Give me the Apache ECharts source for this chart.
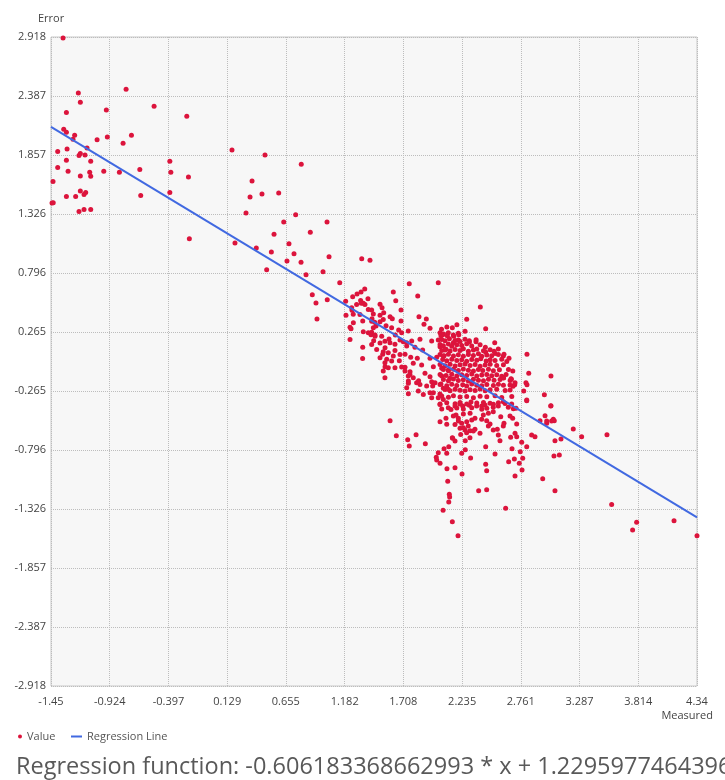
<!DOCTYPE html>
<html>
<head>
<meta charset="utf-8">
<script src="https://cdn.jsdelivr.net/npm/echarts@6/dist/echarts.min.js"></script>
<style>
html,body{margin:0;padding:0;background:#fff;}
#chart{width:725px;height:780px;}
</style>
</head>
<body>
<div id="chart"></div>
<script>
// ---- data ----
const xTicks = [-1.45, -0.924, -0.397, 0.129, 0.655, 1.182, 1.708, 2.235, 2.761, 3.287, 3.814, 4.34];
const yTicks = [-2.918, -2.387, -1.857, -1.326, -0.796, -0.265, 0.265, 0.796, 1.326, 1.857, 2.387, 2.918];

const xAxisName = "Measured";
const yAxisName = "Error";
const regressionText = "Regression function: -0.606183368662993 * x + 1.22959774643961";
const regressionLine = [[-1.45, 2.109], [4.34, -1.401]];

const valuePoints = [
[-1.342,2.91],[-1.205,2.415],[-0.777,2.448],[-1.187,2.331],[-1.312,2.238],[-0.954,2.262],[-0.526,2.295],[-0.233,2.205],
[-1.336,2.088],[-1.312,2.061],[-1.238,2.034],[-1.253,1.998],[-1.037,1.995],[-0.945,2.019],[-0.729,2.034],[-0.804,1.962],
[-1.127,1.920],[-1.306,1.911],[-1.390,1.888],[-1.187,1.870],[-1.199,1.852],[-1.145,1.858],[-1.312,1.810],[-1.094,1.801],
[-0.385,1.801],[-1.390,1.744],[-1.297,1.711],[-0.977,1.711],[-0.837,1.702],[-0.654,1.726],[-0.376,1.702],[-1.187,1.669],
[-1.103,1.702],[-1.094,1.666],[-0.218,1.660],[-1.432,1.618],[-1.187,1.534],[-1.139,1.519],[-1.154,1.501],[-1.312,1.483],
[-1.229,1.483],[-0.646,1.492],[-0.385,1.519],[-1.441,1.426],[-1.430,1.428],[-1.154,1.366],[-1.199,1.348],[-1.094,1.366],
[-0.210,1.104],
[0.172,1.902],[0.298,1.335],[0.199,1.066],[0.334,1.479],
[0.468,1.857],[0.793,1.773],[0.352,1.623],[0.441,1.506],[0.591,1.515],[0.743,1.320],[0.636,1.254],[1.024,1.254],
[0.874,1.162],[0.549,1.144],[0.683,1.059],[0.390,1.021],[0.525,0.985],[0.728,0.969],[1.042,0.943],[0.665,0.904],
[0.791,0.892],[0.483,0.826],[0.836,0.781],[0.988,0.808],[1.138,0.709],[0.892,0.601],[0.925,0.526],[1.026,0.556],
[1.191,0.541],[1.194,0.416],[0.934,0.382],[1.230,0.308],
[1.335,0.925],[1.409,0.910],[1.761,0.700],[2.021,0.709],[1.837,0.589],[1.618,0.625],[1.640,0.547],[2.398,0.490],
[2.276,0.380],[2.446,0.295],[2.527,0.169],[2.261,0.272],
[1.362,0.652],[1.329,0.625],[1.293,0.607],[1.254,0.583],[1.391,0.565],[1.331,0.523],[1.349,0.523],[1.499,0.514],
[1.248,0.460],[1.424,0.463],[1.517,0.484],[1.687,0.463],[1.259,0.425],[1.439,0.428],[1.532,0.439],[1.589,0.403],
[1.609,0.385],[1.344,0.364],[1.427,0.385],[1.451,0.352],[1.499,0.358],[1.848,0.403],[1.914,0.382],[1.893,0.335],
[1.947,0.299],[1.687,0.364],[1.239,0.295],[1.553,0.322],[1.463,0.320],[1.666,0.284],[1.752,0.274],[1.424,0.263],
[1.418,0.241],[1.454,0.238],[1.636,0.238],[2.037,0.259],[2.061,0.241],[2.111,0.259],[1.442,0.187],[1.580,0.202],
[1.678,0.193],[1.708,0.178],[1.783,0.184],[1.857,0.200],[1.962,0.184],[2.021,0.193],[1.499,0.166],[1.633,0.155],
[1.344,0.128],[1.544,0.124],[1.738,0.140],[1.812,0.128],[1.881,0.103],[2.037,0.133],[2.081,0.103],[1.523,0.065],
[1.618,0.050],[1.723,0.065],[1.774,0.038],[1.833,0.029],[1.947,0.029],[2.007,0.038],[2.066,0.050],[1.559,0.020],
[1.672,0.007],[1.797,-0.016],[1.872,-0.031],[1.544,-0.047],[1.723,-0.052],[1.977,-0.047],[2.052,-0.061],[2.111,-0.076],
[1.768,-0.092],[1.902,-0.106],[1.947,-0.137],[1.752,-0.130],[2.052,-0.130],[2.126,-0.151],
[2.816,0.065],[2.832,-0.106],[3.031,-0.130],[2.972,-0.298],[3.031,-0.397],[2.978,-0.487],[3.061,-0.532],[2.993,-0.556],
[3.231,-0.607],[3.306,-0.676],[3.067,-0.712],[3.121,-0.697],[3.058,-0.850],[3.106,-0.841],[2.957,-1.054],[3.067,-1.162],
[2.814,-0.346],[2.787,-0.265],[2.673,-0.155],[2.706,-0.208],[2.691,-0.223],[2.604,-0.146],[2.655,0.029],[2.604,0.050],
[2.559,0.113],[2.530,0.071],[2.443,0.128],[2.446,0.086],
[1.589,-0.532],[1.645,-0.667],[1.822,-0.658],[1.747,-0.703],[1.761,-0.760],[1.905,-0.739],[2.037,-0.541],[2.037,-0.382],
[2.052,-0.427],[2.090,-0.511],[2.097,-0.565],[2.021,-0.820],[2.003,-0.861],[2.007,-0.886],[2.037,-0.915],[2.073,-0.784],
[2.097,-0.825],[2.115,-0.766],[2.147,-0.685],[2.171,-0.715],[2.263,-0.712],[2.263,-0.793],[2.099,-0.964],[2.171,-0.955],
[2.106,-1.077],[2.234,-1.011],[2.120,-1.194],[2.123,-1.218],[2.115,-1.263],[2.064,-1.338],[2.147,-1.440],[2.311,-0.868],
[2.383,-1.162],[2.455,-1.153],[2.446,-0.924],[2.455,-0.982],[2.446,-0.766],[2.530,-0.832],[2.652,-0.901],[2.703,-0.877],
[2.682,-0.784],[2.756,-0.811],[2.778,-0.870],[2.772,-0.976],[2.709,-1.030],[2.625,-1.320],[2.814,-0.766],[2.769,-0.727],
[2.198,-1.566],
[2.171,-0.400],[2.216,-0.382],[2.240,-0.400],[2.299,-0.394],[2.314,-0.364],[2.365,-0.400],[2.410,-0.400],[2.440,-0.391],
[2.485,-0.376],[2.514,-0.412],[2.559,-0.400],[2.604,-0.361],[2.679,-0.382],[2.718,-0.421],[2.814,-0.352],[3.029,-0.400],
[2.180,-0.481],[2.246,-0.472],[2.306,-0.466],[2.201,-0.511],[2.321,-0.526],[2.350,-0.511],[2.276,-0.541],[2.231,-0.556],
[2.425,-0.481],[2.470,-0.466],[2.514,-0.451],[2.455,-0.532],[2.485,-0.562],[2.410,-0.520],[2.581,-0.496],[2.610,-0.556],
[2.664,-0.490],[2.688,-0.511],[2.724,-0.562],[2.216,-0.600],[2.261,-0.616],[2.306,-0.622],[2.350,-0.609],[2.395,-0.645],
[2.470,-0.580],[2.514,-0.616],[2.550,-0.609],[2.604,-0.580],[2.709,-0.645],[2.724,-0.676],[2.559,-0.661],[2.670,-0.682],
[2.574,-0.712],[2.150,-0.690],[2.231,-0.825],[2.747,-0.915],[2.933,-0.532],[2.858,-0.661],[2.888,-0.676],
[2.147,0.304],[2.156,0.238],[2.201,0.254],[2.201,0.193],[2.156,0.169],[2.299,0.187],[2.359,0.178],[2.610,0.065],[2.807,-0.190],[2.649,-0.412],
[2.045,0.232],[2.068,0.247],[2.103,0.229],[2.160,0.226],[2.205,0.241],
[2.052,0.198],[2.082,0.186],[2.121,0.204],[2.172,0.189],[2.216,0.180],[2.261,0.199],[2.300,0.176],[2.360,0.195],
[2.037,0.152],[2.067,0.141],[2.112,0.158],[2.142,0.137],[2.187,0.151],[2.231,0.144],[2.276,0.160],[2.321,0.139],[2.396,0.150],
[2.052,0.098],[2.091,0.110],[2.127,0.094],[2.172,0.107],[2.216,0.099],[2.246,0.114],[2.291,0.092],[2.336,0.104],[2.366,0.112],[2.426,0.097],[2.486,0.106],[2.521,0.093],
[2.037,0.062],[2.073,0.051],[2.112,0.066],[2.157,0.049],[2.201,0.060],[2.246,0.047],[2.291,0.064],[2.336,0.055],[2.381,0.069],[2.411,0.048],[2.456,0.059],[2.500,0.052],[2.560,0.063],
[2.061,0.018],[2.097,0.006],[2.142,0.021],[2.187,0.009],[2.231,0.016],[2.276,0.002],[2.321,0.019],[2.366,0.011],[2.402,0.024],[2.450,0.004],[2.486,0.015],[2.530,0.008],[2.590,0.020],[2.635,0.001],
[2.037,-0.028],[2.082,-0.039],[2.127,-0.025],[2.172,-0.041],[2.216,-0.030],[2.261,-0.022],[2.306,-0.037],[2.351,-0.027],[2.396,-0.043],[2.441,-0.031],[2.486,-0.024],[2.545,-0.036],[2.605,-0.029],
[2.067,-0.072],[2.112,-0.084],[2.157,-0.070],[2.201,-0.081],[2.246,-0.068],[2.291,-0.079],[2.336,-0.086],[2.381,-0.073],[2.420,-0.080],[2.471,-0.069],[2.515,-0.083],[2.569,-0.075],[2.650,-0.071],[2.689,-0.085],
[2.037,-0.118],[2.091,-0.127],[2.142,-0.114],[2.187,-0.130],[2.231,-0.119],[2.276,-0.125],[2.321,-0.112],[2.366,-0.131],[2.411,-0.121],[2.456,-0.116],[2.500,-0.128],[2.545,-0.120],[2.590,-0.133],[2.629,-0.117],
[2.067,-0.161],[2.112,-0.173],[2.157,-0.158],[2.201,-0.170],[2.246,-0.163],[2.291,-0.176],[2.336,-0.160],[2.381,-0.169],[2.426,-0.174],[2.471,-0.159],[2.521,-0.168],[2.575,-0.162],[2.665,-0.171],
[2.037,-0.206],[2.097,-0.218],[2.142,-0.204],[2.187,-0.215],[2.240,-0.209],[2.276,-0.221],[2.321,-0.203],[2.366,-0.214],[2.411,-0.219],[2.456,-0.207],[2.515,-0.216],[2.560,-0.205],[2.605,-0.213],
[2.082,-0.251],[2.127,-0.262],[2.172,-0.249],[2.216,-0.258],[2.261,-0.266],[2.306,-0.253],[2.351,-0.260],[2.396,-0.247],[2.441,-0.263],[2.486,-0.255],[2.545,-0.250],[2.620,-0.261],[2.665,-0.256],
[2.052,-0.311],[2.112,-0.322],[2.157,-0.309],[2.216,-0.320],[2.276,-0.314],[2.336,-0.326],[2.396,-0.312],[2.456,-0.318],[2.530,-0.308],[2.590,-0.323],[2.680,-0.315],
[2.097,-0.371],[2.172,-0.380],[2.216,-0.368],[2.276,-0.383],[2.366,-0.374],[2.426,-0.369],[2.515,-0.385],[2.560,-0.372],[2.620,-0.378],
[2.187,-0.418],[2.246,-0.427],[2.321,-0.415],[2.411,-0.430],[2.456,-0.420],[2.694,-0.424],
[1.245,0.483],[1.289,0.513],[1.325,0.549],[1.364,0.513],[1.394,0.468],[1.319,0.423],[1.260,0.348],[1.424,0.363],
[1.499,0.417],[1.528,0.378],[1.439,0.303],[1.394,0.258],[1.349,0.267],[1.454,0.228],[1.514,0.228],[1.543,0.183],
[1.588,0.168],[1.603,0.303],[1.693,0.258],[1.738,0.168],[1.424,0.153],[1.469,0.108],[1.528,0.087],[1.573,0.079],
[1.633,0.100],[1.678,0.063],[1.499,0.034],[1.543,-0.011],[1.603,0.004],[1.633,-0.056],[1.528,-0.086],[1.543,-0.146],
[1.573,-0.056],[1.693,-0.050],[1.723,-0.086],[1.767,-0.116],[1.753,-0.176],[1.797,-0.146],[1.827,-0.191],[1.738,-0.236],
[1.753,-0.290],[1.842,-0.266],[1.857,-0.206],[1.917,-0.221],[1.887,-0.296],[1.947,-0.281],[1.962,-0.326],[1.343,0.028],[1.230,0.198],
[1.753,-0.196],[1.845,-0.172],[1.962,-0.181],[1.992,-0.190],[1.971,-0.220],[2.045,-0.202],[2.066,-0.241],[2.111,-0.250],[2.036,-0.292],
[2.036,-0.386],[2.066,-0.341],[2.111,-0.416],[2.156,-0.491],[2.171,-0.566],[2.201,-0.536],[2.246,-0.596],[2.275,-0.641],
[2.222,-0.656],[2.305,-0.686],[2.335,-0.626],[2.290,-0.581],[2.135,-0.431],[1.977,-0.281],[2.021,-0.326],
[2.816,-0.208],[2.993,-0.535],[3.037,-0.535],[3.052,-0.520],[3.533,-0.658],[3.575,-1.287],[3.799,-1.446],[3.763,-1.515],
[4.134,-1.431],[4.34,-1.566],[2.607,-0.148],[2.676,-0.160],[2.709,-0.190],[2.664,-0.211],
[2.098,0.310],[2.188,0.330],[2.050,0.290]
];

// ---- chart ----
const FONT = '"Open Sans", "Liberation Sans", sans-serif';
const chart = echarts.init(document.getElementById('chart'), null, {renderer: 'canvas'});
chart.setOption({
  animation: false,
  backgroundColor: '#ffffff',
  textStyle: {fontFamily: FONT},
  title: {
    text: regressionText,
    left: 11,
    top: 750,
    textStyle: {fontSize: 23.5, fontWeight: 'normal', color: '#595959', fontFamily: FONT}
  },
  graphic: [
    {type: 'text', left: 38, top: 13,
      style: {text: yAxisName, fontSize: 11, fill: '#444', fontFamily: FONT}},
    {type: 'text', right: 12, top: 710,
      style: {text: xAxisName, fontSize: 11, fill: '#444', fontFamily: FONT}}
  ],
  legend: [
    {
      left: 13, top: 726, itemWidth: 4, itemHeight: 4, itemGap: 10,
      textStyle: {fontSize: 11, color: '#555', fontFamily: FONT},
      data: [{name: 'Value', icon: 'circle'}]
    },
    {
      left: 66, top: 726, itemWidth: 11, itemHeight: 2,
      textStyle: {fontSize: 11, color: '#555', fontFamily: FONT},
      data: [{name: 'Regression Line', icon: 'rect'}]
    }
  ],
  grid: {
    left: 51, right: 28, top: 37, bottom: 94,
    show: true, backgroundColor: '#f7f7f7', borderColor: '#c8c8c8', borderWidth: 1
  },
  xAxis: {
    type: 'value',
    min: xTicks[0], max: xTicks[xTicks.length - 1],
    axisLine: {show: false},
    axisTick: {show: false, customValues: xTicks},
    axisLabel: {customValues: xTicks, fontSize: 11, color: '#444', margin: 10, fontFamily: FONT,
      formatter: v => String(v)},
    splitLine: {show: true, lineStyle: {type: 'dotted', color: '#bdbdbd', width: 1}}
  },
  yAxis: {
    type: 'value',
    min: yTicks[0], max: yTicks[yTicks.length - 1],
    axisLine: {show: false},
    axisTick: {show: false, customValues: yTicks},
    axisLabel: {customValues: yTicks, fontSize: 11, color: '#444', margin: 5, fontFamily: FONT,
      formatter: v => String(v)},
    splitLine: {show: true, lineStyle: {type: 'dotted', color: '#bdbdbd', width: 1}}
  },
  series: [
    {
      name: 'Value', type: 'scatter', data: valuePoints,
      symbol: 'circle', symbolSize: 5,
      itemStyle: {color: '#dc143c', opacity: 1},
      z: 2
    },
    {
      name: 'Regression Line', type: 'line', data: regressionLine,
      showSymbol: false, symbol: 'none',
      lineStyle: {color: '#4169e1', width: 2},
      itemStyle: {color: '#4169e1'},
      z: 3
    }
  ]
});
</script>
</body>
</html>
